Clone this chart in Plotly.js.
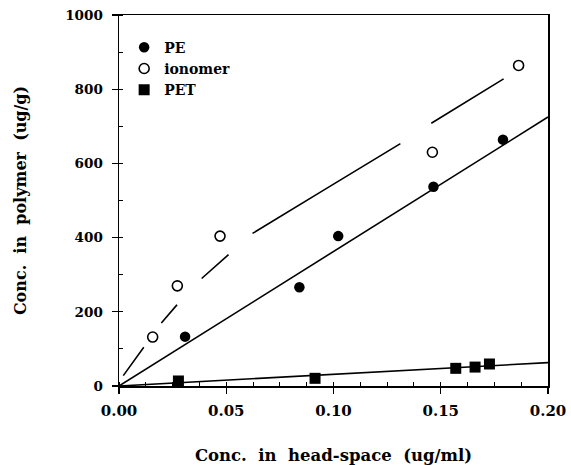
<!DOCTYPE html>
<html>
<head>
<meta charset="utf-8">
<script src="https://cdn.plot.ly/plotly-3.0.1.min.js"></script>
<style>html,body{margin:0;padding:0;background:#fff;}#chart{width:571px;height:465px;}</style>
</head>
<body>
<div id="chart"></div>
<script>
// Data
const peX = [0.0308, 0.0841, 0.1022, 0.1466, 0.179];
const peY = [133, 266, 404, 537, 664];
const ionX = [0.0157, 0.0272, 0.0471, 0.1461, 0.1863];
const ionY = [132, 270, 404, 630, 864];
const petX = [0.0277, 0.0914, 0.157, 0.166, 0.1727];
const petY = [13.5, 20.7, 47.6, 51, 59.3];
// Fitted lines as drawn in the reference
const peFitX = [0, 0.2];
const peFitY = [0, 725];
const petFitX = [0, 0.2];
const petFitY = [0, 63];
const ionFitX = [0.002, 0.0113, 0.0196, 0.0269, 0.0382, 0.0508, 0.0619, 0.096, 0.1308, 0.145, 0.1793];
const ionFitY = [28, 104, 169, 218, 288, 353, 410, 530, 652, 706, 828];
const seriesNames = ['PE', 'ionomer', 'PET'];
const xTickVals = [0, 0.05, 0.1, 0.15, 0.2];
const xTickText = ['0.00', '0.05', '0.10', '0.15', '0.20'];
const yTickVals = [0, 200, 400, 600, 800, 1000];
const yTickText = ['0', '200', '400', '600', '800', '1000'];

const serif = 'DejaVu Serif, serif';
const traces = [
  {x: peFitX, y: peFitY, mode: 'lines', line: {color: '#000', width: 1.6}, showlegend: false, hoverinfo: 'skip'},
  {x: petFitX, y: petFitY, mode: 'lines', line: {color: '#000', width: 1.6}, showlegend: false, hoverinfo: 'skip'},
  {x: ionFitX, y: ionFitY, mode: 'lines', line: {color: '#000', width: 1.6, dash: '35px,30px,24px,36px,36px,32px,173px,37px,86px'}, showlegend: false, hoverinfo: 'skip'},
  {x: peX, y: peY, name: seriesNames[0], mode: 'markers', marker: {symbol: 'circle', size: 10.5, color: '#000'}},
  {x: ionX, y: ionY, name: seriesNames[1], mode: 'markers', marker: {symbol: 'circle-open', size: 10, color: '#000', line: {width: 1.6, color: '#000'}}},
  {x: petX, y: petY, name: seriesNames[2], mode: 'markers', marker: {symbol: 'square', size: 11, color: '#000'}}
];

const layout = {
  width: 571, height: 465,
  margin: {l: 119, r: 23, t: 15, b: 79},
  paper_bgcolor: '#fff', plot_bgcolor: '#fff',
  font: {family: serif, color: '#000', size: 14},
  showlegend: true,
  legend: {x: 0.012, y: 0.955, xanchor: 'left', yanchor: 'top', bgcolor: 'rgba(0,0,0,0)',
           font: {family: serif, size: 14, weight: 'bold', color: '#000'}, itemwidth: 30, tracegroupgap: 0},
  xaxis: {
    range: [0, 0.2], showgrid: false, zeroline: false,
    showline: true, linecolor: '#000', linewidth: 1.5, mirror: true,
    ticks: 'outside', ticklen: 6, tickwidth: 1.3, tickcolor: '#000',
    tickvals: xTickVals, ticktext: xTickText, ticklabelstandoff: 4,
    tickfont: {family: serif, size: 15, weight: 'bold'},
    minor: {ticks: 'inside', ticklen: 4, dtick: 0.0125, tickcolor: '#000', tickwidth: 1},
    title: {text: 'Conc.  in  head-space  (ug/ml)', font: {family: serif, size: 16.5, weight: 'bold'}, standoff: 31}
  },
  yaxis: {
    range: [0, 1000], showgrid: false, zeroline: false,
    showline: true, linecolor: '#000', linewidth: 1.5, mirror: true,
    ticks: 'outside', ticklen: 6, tickwidth: 1.3, tickcolor: '#000',
    tickvals: yTickVals, ticktext: yTickText, ticklabelstandoff: 6,
    tickfont: {family: serif, size: 13.5, weight: 'bold'},
    minor: {ticks: 'inside', ticklen: 4, dtick: 100, tickcolor: '#000', tickwidth: 1},
    title: {text: 'Conc.  in  polymer  (ug/g)', font: {family: serif, size: 16, weight: 'bold'}, standoff: 34}
  }
};

Plotly.newPlot('chart', traces, layout, {displayModeBar: false, staticPlot: true});
</script>
</body>
</html>
